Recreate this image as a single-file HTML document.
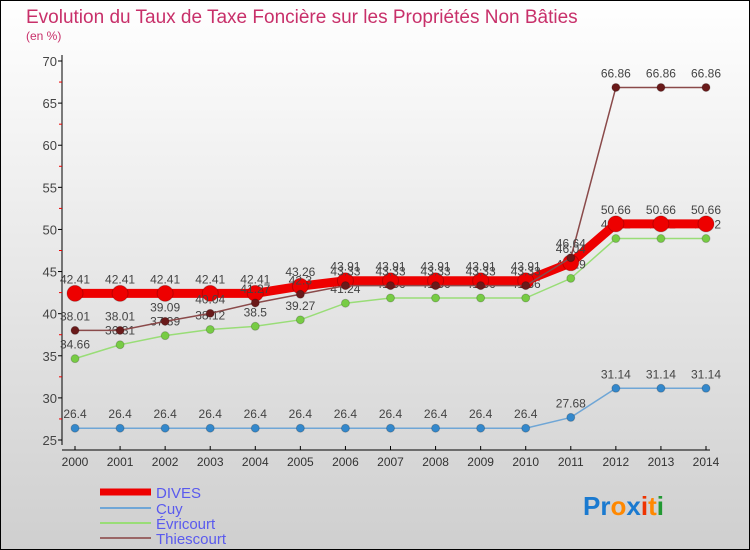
<!DOCTYPE html>
<html><head><meta charset="utf-8"><style>
body{margin:0}
#c{width:750px;height:550px;position:relative;overflow:hidden}
</style></head><body>
<div id="c">
<svg id="s" width="750" height="550" xmlns="http://www.w3.org/2000/svg" font-family="Liberation Sans, sans-serif">
<defs><linearGradient id="bg" x1="0" y1="0" x2="0" y2="1"><stop offset="0" stop-color="#ffffff"/><stop offset="1" stop-color="#cfcfcf"/></linearGradient></defs>
<rect x="0.5" y="0.5" width="749" height="549" fill="url(#bg)" stroke="#000"/>
<text x="26" y="23" font-size="19" fill="#c8306a">Evolution du Taux de Taxe Foncière sur les Propriétés Non Bâties</text>
<text x="26" y="40" font-size="12" fill="#c8306a">(en %)</text>
<g id="axes"></g><g id="series"></g>
<g>
<line x1="100" y1="492" x2="151" y2="492" stroke="#ee0000" stroke-width="7"/>
<text x="156" y="498" font-size="15" fill="#5a5aee">DIVES</text>
<line x1="100" y1="508" x2="151" y2="508" stroke="#6fa6d6" stroke-width="2"/>
<text x="156" y="514" font-size="15" fill="#5a5aee">Cuy</text>
<line x1="100" y1="523" x2="151" y2="523" stroke="#99dd77" stroke-width="2"/>
<text x="156" y="529" font-size="15" fill="#5a5aee">Évricourt</text>
<line x1="100" y1="538" x2="151" y2="538" stroke="#9a6666" stroke-width="2"/>
<text x="156" y="544" font-size="15" fill="#5a5aee">Thiescourt</text>
</g>
<g font-size="26" font-weight="bold">
<text x="583" y="515"><tspan fill="#1a7ad0">Pr</tspan><tspan fill="#ff8800">o</tspan><tspan fill="#1a7ad0">x</tspan><tspan fill="#ee3300">i</tspan><tspan fill="#ff8800">t</tspan><tspan fill="#229933">i</tspan></text>
</g>
</svg>
</div>
<script>
const years=[2000,2001,2002,2003,2004,2005,2006,2007,2008,2009,2010,2011,2012,2013,2014];
const yTicks=[25,30,35,40,45,50,55,60,65,70];
const dives=[42.41,42.41,42.41,42.41,42.41,43.26,43.91,43.91,43.91,43.91,43.91,46.04,50.66,50.66,50.66];
const cuy=[26.4,26.4,26.4,26.4,26.4,26.4,26.4,26.4,26.4,26.4,26.4,27.68,31.14,31.14,31.14];
const evricourt=[34.66,36.31,37.39,38.12,38.5,39.27,41.24,41.86,41.86,41.86,41.86,44.19,48.92,48.92,48.92];
const thiescourt=[38.01,38.01,39.09,40.04,41.27,42.3,43.33,43.33,43.33,43.33,43.33,46.64,66.86,66.86,66.86];
const NS='http://www.w3.org/2000/svg';
function X(i){return 75+i*(706-75)/(years.length-1);}
function Y(v){return 440-(v-25)*(440-61)/45;}
function mk(t,a,p){const e=document.createElementNS(NS,t);for(const k in a)e.setAttribute(k,a[k]);p.appendChild(e);return e;}
const ax=document.getElementById('axes');
const yl=mk('line',{x1:62,y1:55,x2:62,y2:445,stroke:'#000'},ax);

const xl=mk('line',{x1:62,y1:450,x2:710,y2:450,stroke:'#000'},ax);

yTicks.forEach(v=>{
 mk('line',{x1:58,y1:Y(v),x2:62,y2:Y(v),stroke:'#000'},ax);
 if(v<70)mk('line',{x1:59,y1:Y(v+2.5),x2:62,y2:Y(v+2.5),stroke:'#e00'},ax);
 const t=mk('text',{x:57,y:Y(v)+5,'text-anchor':'end','font-size':13,fill:'#444'},ax);t.textContent=v;
 
});
years.forEach((y,i)=>{
 mk('line',{x1:X(i),y1:446,x2:X(i),y2:450,stroke:'#000'},ax);
 const t=mk('text',{x:X(i),y:466,'text-anchor':'middle','font-size':12,fill:'#333'},ax);t.textContent=y;
 
});
const sg=document.getElementById('series');
function series(name,vals,color,dot,w,r){
 const g=mk('g',{},sg);
 
 mk('polyline',{points:vals.map((v,i)=>X(i)+','+Y(v)).join(' '),fill:'none',stroke:color,'stroke-width':w},g);
 vals.forEach((v,i)=>{
  const c=mk('circle',{cx:X(i),cy:Y(v),r:r,fill:dot,stroke:'rgba(0,0,0,0.2)'},g);
  
  const t=mk('text',{x:X(i),y:Y(v)-10,'text-anchor':'middle','font-size':12,fill:'#444'},g);t.textContent=v;
 });
}
series('cuy',cuy,'#6fa6d6','#3388cc',1.5,4);
series('evricourt',evricourt,'#99dd77','#77cc44',1.5,4);
series('dives',dives,'#ee0000','#ee0000',9,8);
series('thiescourt',thiescourt,'#8a4a4a','#6a1a1a',1.5,4);
</script>
</body></html>
